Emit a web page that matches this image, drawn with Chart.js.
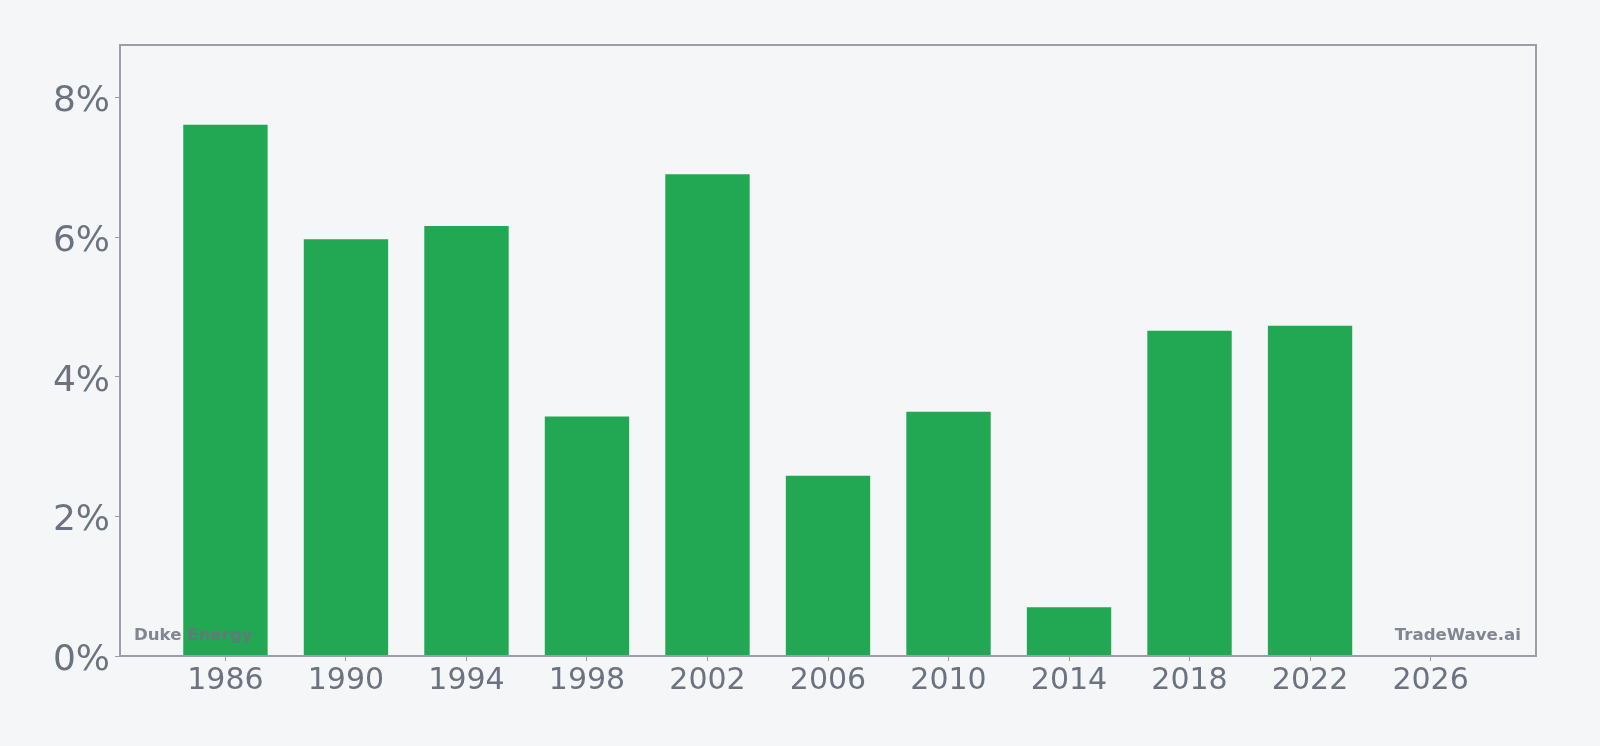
<!DOCTYPE html>
<html>
<head>
<meta charset="utf-8">
<script src="https://cdn.jsdelivr.net/npm/chart.js@4/dist/chart.umd.min.js"></script>
<style>
html,body{margin:0;padding:0;background:#f4f6f8;}
#wrap{width:1600px;height:746px;position:relative;}
</style>
</head>
<body>
<div id="wrap"><canvas id="c" width="1600" height="746"></canvas></div>
<script>
const years = [1986, 1990, 1994, 1998, 2002, 2006, 2010, 2014, 2018, 2022, 2026];
const values = [7.61, 5.97, 6.16, 3.43, 6.90, 2.58, 3.50, 0.70, 4.66, 4.73, null];
const xTickLabels = [1986, 1990, 1994, 1998, 2002, 2006, 2010, 2014, 2018, 2022, 2026];
const yTickValues = [0, 2, 4, 6, 8];
const leftLabel = "Duke Energy";
const rightLabel = "TradeWave.ai";

const gray = '#6b7280';
const borderGray = '#9c9da8';
const yMax = Math.max(...values.filter(v => v !== null)) * 1.15;

const boxPlugin = {
  id: 'box',
  afterDatasetsDraw(chart) {
    const {ctx, chartArea: a} = chart;
    ctx.save();
    ctx.font = 'bold 16.6px "DejaVu Sans"';
    ctx.fillStyle = 'rgba(107,114,128,0.85)';
    ctx.textBaseline = 'alphabetic';
    ctx.textAlign = 'left';
    ctx.fillText(leftLabel, a.left + 14, a.bottom - 16);
    ctx.textAlign = 'right';
    ctx.fillText(rightLabel, a.right - 15, a.bottom - 16);
    ctx.strokeStyle = borderGray;
    ctx.lineWidth = 2;
    ctx.strokeRect(a.left, a.top, a.right - a.left, a.bottom - a.top);
    ctx.restore();
  },
  afterDraw(chart) {
    const {ctx, chartArea: a} = chart;
    const xs = chart.scales.x, ys = chart.scales.y;
    ctx.save();
    ctx.fillStyle = gray;
    ctx.textBaseline = 'alphabetic';
    ctx.font = '30px "DejaVu Sans"';
    ctx.textAlign = 'center';
    xTickLabels.forEach(v => ctx.fillText(String(v), xs.getPixelForValue(v), a.bottom + 33));
    ctx.font = '36px "DejaVu Sans"';
    ctx.textAlign = 'right';
    yTickValues.forEach(v => ctx.fillText(v + '%', a.left - 10, ys.getPixelForValue(v) + 14));
    ctx.restore();
  }
};

new Chart(document.getElementById('c'), {
  type: 'bar',
  data: {
    datasets: [{
      data: years.map((y, i) => ({x: y, y: values[i]})),
      backgroundColor: '#22a752',
      borderWidth: 0,
      barPercentage: 0.7,
      categoryPercentage: 1.0
    }]
  },
  options: {
    responsive: false,
    animation: false,
    layout: {padding: {top: 45, right: 64, left: 0, bottom: 0}},
    plugins: {legend: {display: false}, tooltip: {enabled: false}},
    scales: {
      x: {
        type: 'linear',
        min: 1982.5,
        max: 2029.5,
        offset: false,
        afterBuildTicks(s) { s.ticks = xTickLabels.map(v => ({value: v})); },
        afterFit(s) { s.height = 90; },
        grid: {display: true, offset: false, drawOnChartArea: false, drawTicks: true, tickLength: 5, color: borderGray, lineWidth: 1},
        border: {display: false},
        ticks: {display: false}
      },
      y: {
        min: 0,
        max: yMax,
        afterBuildTicks(s) { s.ticks = yTickValues.map(v => ({value: v})); },
        afterFit(s) { s.width = 120; },
        grid: {display: true, drawOnChartArea: false, drawTicks: true, tickLength: 5, color: borderGray, lineWidth: 1},
        border: {display: false},
        ticks: {display: false}
      }
    }
  },
  plugins: [boxPlugin]
});
</script>
</body>
</html>
